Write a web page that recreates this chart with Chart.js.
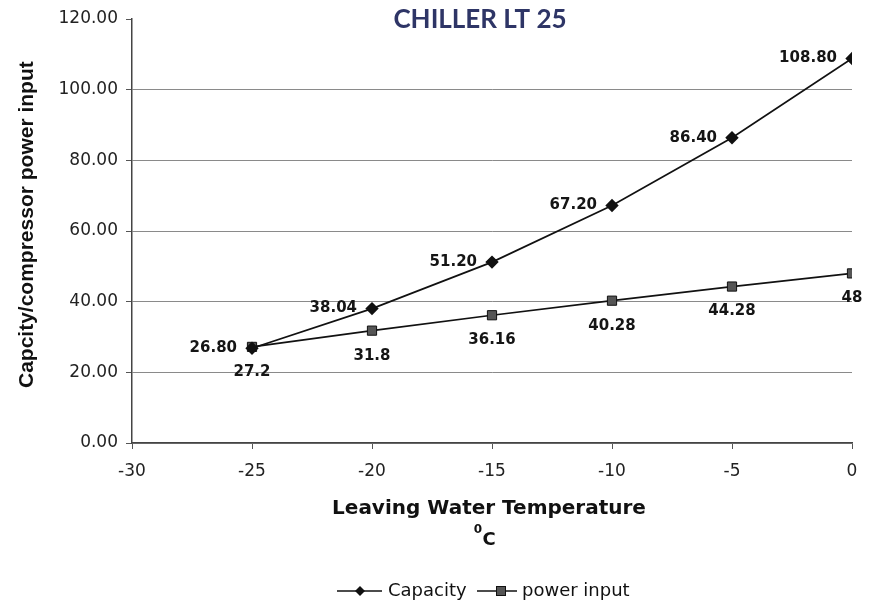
<!DOCTYPE html>
<html>
<head>
<meta charset="utf-8">
<script src="https://cdn.jsdelivr.net/npm/chart.js@4.4.1/dist/chart.umd.min.js"></script>
<style>
html,body{margin:0;padding:0;background:#fff;}
#wrap{width:876px;height:606px;position:relative;}
</style>
</head>
<body>
<div id="wrap"><canvas id="c" width="876" height="606"></canvas></div>
<script>
const temperatures = [-25, -20, -15, -10, -5, 0];
const capacity = [26.80, 38.04, 51.20, 67.20, 86.40, 108.80];
const powerInput = [27.2, 31.8, 36.16, 40.28, 44.28, 48];
const capacityLabels = ['26.80', '38.04', '51.20', '67.20', '86.40', '108.80'];
const powerLabels = ['27.2', '31.8', '36.16', '40.28', '44.28', '48'];
const xTicks = [-30, -25, -20, -15, -10, -5, 0];
const yTicks = [0, 20, 40, 60, 80, 100, 120];

const WIDE = '"DejaVu Sans", Verdana, sans-serif';
const ARIAL = '"Liberation Sans", Arial, Helvetica, sans-serif';

const overlay = {
  id: 'overlay',
  afterDatasetsDraw(chart) {
    const ctx = chart.ctx;
    ctx.save();
    ctx.fillStyle = '#151515';
    ctx.font = 'bold 15px ' + WIDE;
    const m0 = chart.getDatasetMeta(0);
    ctx.textAlign = 'right';
    ctx.textBaseline = 'middle';
    m0.data.forEach((p, i) => {
      ctx.fillText(capacityLabels[i], p.x - 15, p.y);
    });
    const m1 = chart.getDatasetMeta(1);
    ctx.textAlign = 'center';
    m1.data.forEach((p, i) => {
      ctx.fillText(powerLabels[i], p.x, p.y + 25);
    });
    ctx.restore();
  },
  afterDraw(chart) {
    const ctx = chart.ctx;
    ctx.save();
    ctx.fillStyle = '#2e3566';
    ctx.font = 'bold 26px Lato, "Open Sans", sans-serif';
    ctx.textAlign = 'center';
    ctx.textBaseline = 'middle';
    ctx.fillText('CHILLER LT 25', 480, 20);
    ctx.restore();
    ctx.save();
    ctx.fillStyle = '#111';
    ctx.font = 'bold 21px ' + ARIAL;
    ctx.translate(33, 388);
    ctx.rotate(-Math.PI / 2);
    ctx.textAlign = 'left';
    ctx.textBaseline = 'alphabetic';
    ctx.fillText('Capcity/compressor power input', 0, 0);
    ctx.restore();
    ctx.save();
    ctx.fillStyle = '#111';
    ctx.font = 'bold 20px ' + WIDE;
    ctx.textAlign = 'center';
    ctx.textBaseline = 'middle';
    ctx.fillText('Leaving Water Temperature', 489, 509);
    ctx.font = 'bold 12px ' + WIDE;
    ctx.fillText('0', 478, 530);
    ctx.font = 'bold 18px ' + WIDE;
    ctx.fillText('C', 489, 540);
    // legend
    ctx.strokeStyle = '#111';
    ctx.lineWidth = 1.6;
    ctx.beginPath(); ctx.moveTo(337, 591); ctx.lineTo(382, 591); ctx.stroke();
    ctx.fillStyle = '#111';
    ctx.beginPath();
    ctx.moveTo(360, 586); ctx.lineTo(365, 591); ctx.lineTo(360, 596); ctx.lineTo(355, 591); ctx.closePath(); ctx.fill();
    ctx.beginPath(); ctx.moveTo(477, 591); ctx.lineTo(517, 591); ctx.stroke();
    ctx.fillStyle = '#555';
    ctx.fillRect(496.5, 586.5, 9, 9);
    ctx.strokeStyle = '#111'; ctx.lineWidth = 1;
    ctx.strokeRect(496.5, 586.5, 9, 9);
    ctx.fillStyle = '#111';
    ctx.font = '18px ' + WIDE;
    ctx.textAlign = 'left';
    ctx.fillText('Capacity', 388, 591);
    ctx.fillText('power input', 522, 591);
    ctx.restore();
  }
};

new Chart(document.getElementById('c'), {
  type: 'line',
  data: {
    datasets: [
      {
        label: 'Capacity',
        data: temperatures.map((t, i) => ({x: t, y: capacity[i]})),
        borderColor: '#111',
        borderWidth: 1.7,
        pointStyle: 'rectRot',
        pointRadius: 5.5,
        pointBackgroundColor: '#111',
        pointBorderColor: '#111',
        tension: 0
      },
      {
        label: 'power input',
        data: temperatures.map((t, i) => ({x: t, y: powerInput[i]})),
        borderColor: '#111',
        borderWidth: 1.7,
        pointStyle: 'rect',
        pointRadius: 6.5,
        pointBackgroundColor: '#555',
        pointBorderColor: '#111',
        pointBorderWidth: 1,
        tension: 0
      }
    ]
  },
  options: {
    responsive: false,
    animation: false,
    devicePixelRatio: 1,
    layout: {padding: {left: 0, right: 24, top: 19, bottom: 0}},
    plugins: {legend: {display: false}, title: {display: false}, tooltip: {enabled: false}},
    scales: {
      x: {
        type: 'linear',
        min: -30, max: 0,
        afterBuildTicks(s) { s.ticks = xTicks.map(v => ({value: v})); },
        afterFit(s) { s.height = 606 - 443; },
        grid: {drawOnChartArea: false, drawTicks: true, tickLength: 6, color: '#555'},
        border: {color: '#444', width: 1.5},
        ticks: {padding: 12, color: '#222', font: {family: WIDE, size: 17}, maxRotation: 0,
          callback: v => String(v)}
      },
      y: {
        type: 'linear',
        min: 0, max: 120,
        afterBuildTicks(s) { s.ticks = yTicks.map(v => ({value: v})); },
        afterFit(s) { s.width = 132; },
        grid: {
          color: ctx => (ctx.tick && ctx.tick.value === 120) ? 'rgba(0,0,0,0)' : '#8a8a8a',
          lineWidth: 1, tickLength: 6, drawTicks: true, tickColor: '#555'
        },
        border: {color: '#444', width: 1.5},
        ticks: {padding: 8, color: '#222', font: {family: WIDE, size: 17},
          callback: v => Number(v).toFixed(2)}
      }
    }
  },
  plugins: [overlay]
});
</script>
</body>
</html>
